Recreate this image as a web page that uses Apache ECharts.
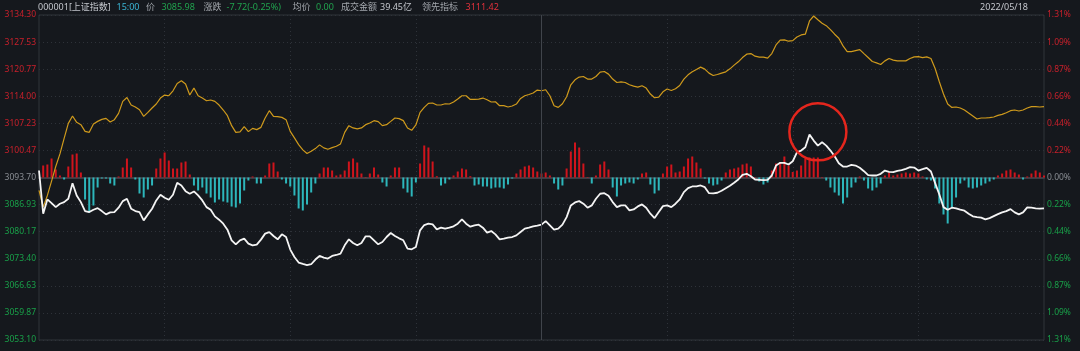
<!DOCTYPE html>
<html>
<head>
<meta charset="utf-8">
<script src="https://cdn.jsdelivr.net/npm/echarts@6/dist/echarts.min.js"></script>
<style>
  html, body { margin: 0; padding: 0; background: #15181d; }
  #chart { width: 1080px; height: 351px; }
</style>
</head>
<body>
<div id="chart"></div>
<script>
// 上证指数 2022/05/18 分时，241 个点（9:30 - 15:00）
var prevClose = 3093.70;
var axisTop = 3134.30, axisBottom = 3053.10;

// 白线：指数
var priceLine = [
  3095.44, 3084.66, 3088.22, 3087.30, 3086.30, 3087.15, 3087.55, 3088.39, 3092.28, 3089.22,
  3087.55, 3085.31, 3085.06, 3085.65, 3086.05, 3085.31, 3084.48, 3084.98, 3085.06, 3086.15,
  3087.80, 3088.39, 3085.90, 3085.31, 3085.06, 3082.99, 3084.48, 3085.90, 3087.97, 3089.39,
  3088.64, 3088.15, 3089.39, 3092.38, 3091.71, 3090.29, 3089.64, 3090.21, 3089.22, 3087.97,
  3086.30, 3085.65, 3083.99, 3083.16, 3082.17, 3080.67, 3078.01, 3077.01, 3078.01, 3078.43,
  3077.18, 3076.76, 3076.94, 3078.18, 3079.68, 3080.07, 3079.08, 3078.26, 3079.50, 3078.83,
  3075.69, 3073.85, 3072.45, 3072.10, 3071.78, 3072.03, 3073.20, 3074.10, 3073.70, 3073.45,
  3074.10, 3074.34, 3074.69, 3076.76, 3078.26, 3077.33, 3076.76, 3077.33, 3079.00, 3079.00,
  3078.01, 3077.01, 3077.58, 3078.83, 3079.83, 3079.08, 3078.50, 3078.01, 3075.94, 3075.76,
  3076.34, 3080.50, 3081.82, 3082.17, 3081.99, 3080.75, 3081.17, 3080.92, 3081.17, 3081.49,
  3082.17, 3083.24, 3082.17, 3081.42, 3081.74, 3081.92, 3081.17, 3079.92, 3080.32, 3079.50,
  3078.26, 3078.43, 3078.68, 3078.83, 3079.25, 3080.07, 3080.92, 3081.17, 3081.49, 3081.67,
  3081.92, 3082.81, 3081.74, 3080.67, 3080.92, 3081.92, 3083.81, 3086.73, 3087.47, 3087.80,
  3087.15, 3086.15, 3086.73, 3088.39, 3089.64, 3089.79, 3089.14, 3087.55, 3086.30, 3086.73,
  3086.73, 3085.48, 3085.73, 3086.48, 3086.97, 3086.15, 3084.66, 3083.56, 3085.06, 3086.55,
  3086.73, 3086.30, 3087.15, 3088.22, 3090.04, 3091.03, 3091.46, 3091.46, 3091.71, 3091.28,
  3089.79, 3089.71, 3089.89, 3090.39, 3091.03, 3091.63, 3092.38, 3093.20, 3094.37, 3094.62,
  3094.02, 3093.20, 3093.13, 3093.03, 3093.13, 3094.20, 3096.69, 3097.36, 3097.36, 3096.94,
  3097.76, 3100.00, 3100.43, 3101.25, 3104.41, 3102.92, 3101.67, 3102.49, 3101.67, 3100.43,
  3099.01, 3097.26, 3096.44, 3096.44, 3096.86, 3096.69, 3096.12, 3095.27, 3094.27, 3094.20,
  3094.20, 3094.62, 3095.44, 3095.12, 3095.02, 3095.37, 3095.52, 3095.87, 3096.27, 3096.19,
  3095.44, 3095.77, 3096.12, 3095.19, 3092.28, 3089.47, 3086.30, 3085.65, 3086.15, 3085.98,
  3085.65, 3085.40, 3084.66, 3083.99, 3083.81, 3083.66, 3083.24, 3083.56, 3084.06, 3084.56,
  3084.98, 3085.31, 3085.80, 3084.98, 3084.48, 3084.98, 3086.23, 3086.15, 3085.98, 3085.90,
  3085.98
];

// 黄线：领先指标
var leadLine = [
  3090.46, 3086.30, 3089.22, 3092.78, 3096.44, 3099.60, 3103.49, 3107.23, 3109.07, 3107.48,
  3106.90, 3105.23, 3104.98, 3107.08, 3107.72, 3108.22, 3108.47, 3107.57, 3108.15, 3109.72,
  3112.71, 3113.70, 3111.81, 3111.31, 3110.64, 3108.97, 3109.97, 3111.06, 3112.06, 3113.55,
  3114.30, 3114.13, 3115.37, 3117.19, 3117.86, 3117.04, 3114.30, 3116.04, 3114.13, 3113.55,
  3112.88, 3113.06, 3112.71, 3111.81, 3110.56, 3109.14, 3106.65, 3104.98, 3105.08, 3106.40,
  3105.16, 3105.98, 3105.66, 3106.23, 3108.57, 3110.39, 3108.97, 3108.90, 3108.72, 3108.15,
  3105.23, 3103.59, 3101.92, 3100.60, 3099.68, 3100.25, 3100.92, 3101.85, 3101.10, 3100.75,
  3101.17, 3101.50, 3102.09, 3104.98, 3106.65, 3106.08, 3105.83, 3106.08, 3106.90, 3107.33,
  3107.90, 3107.65, 3106.65, 3106.90, 3107.72, 3108.57, 3108.40, 3107.90, 3106.08, 3105.48,
  3106.83, 3109.97, 3111.21, 3112.21, 3112.31, 3111.81, 3111.81, 3112.13, 3112.06, 3112.56,
  3113.30, 3114.13, 3114.13, 3113.20, 3113.20, 3113.30, 3113.55, 3113.13, 3112.56, 3112.63,
  3111.64, 3111.64, 3111.31, 3111.56, 3112.06, 3113.45, 3114.13, 3114.45, 3114.80, 3115.55,
  3115.37, 3115.62, 3114.13, 3111.64, 3111.21, 3112.13, 3113.88, 3116.87, 3118.11, 3118.78,
  3118.93, 3118.29, 3118.29, 3118.93, 3120.03, 3120.18, 3119.53, 3118.29, 3117.44, 3117.61,
  3117.44, 3116.87, 3116.54, 3116.29, 3116.62, 3116.04, 3114.55, 3113.63, 3113.80, 3115.12,
  3115.80, 3115.45, 3115.87, 3116.69, 3118.29, 3119.36, 3120.10, 3120.68, 3121.28, 3120.78,
  3119.78, 3119.18, 3119.43, 3119.78, 3120.10, 3120.85, 3121.77, 3122.60, 3123.67, 3124.51,
  3124.66, 3124.02, 3123.77, 3123.77, 3123.52, 3124.66, 3126.83, 3128.00, 3128.08, 3127.75,
  3127.90, 3128.82, 3129.32, 3129.50, 3132.81, 3134.05, 3133.13, 3132.24, 3131.64, 3130.64,
  3129.50, 3128.50, 3126.58, 3125.16, 3125.16, 3125.41, 3125.66, 3124.66, 3123.67, 3122.67,
  3122.35, 3121.92, 3122.84, 3123.42, 3123.02, 3122.84, 3122.84, 3122.84, 3123.42, 3123.84,
  3123.92, 3123.67, 3123.84, 3123.42, 3120.93, 3117.61, 3114.55, 3112.06, 3111.21, 3111.31,
  3111.06, 3110.56, 3109.82, 3109.07, 3108.32, 3108.57, 3108.57, 3108.65, 3108.82, 3109.22,
  3109.47, 3109.89, 3110.39, 3110.56, 3110.31, 3110.56, 3111.06, 3111.39, 3111.39, 3111.31,
  3111.42
];

// 红绿柱（买卖力道），正为红、负为绿
var powerBars = [
  0, 12, 13, 19, 8, 2, -2, 11, 23, 24,
  5, -22, -35, -28, -10, -1, -1, -6, -8, 1,
  10, 19, 10, -2, -16, -20, -12, -8, 9, 19,
  25, 17, 9, 9, 15, 16, 3, -8, -13, -10,
  -16, -20, -25, -22, -24, -25, -29, -30, -26, -13,
  -3, 1, -6, -6, 2, 14, 15, 6, -2, -6,
  -9, -18, -31, -33, -27, -15, -6, 4, 10, 10,
  7, 2, 3, 7, 16, 19, 15, 4, 0.5, 4,
  10, 3, -5, -9, 2, 10, 10, -11, -15, -19,
  -5, 14, 32, 30, 16, 1.3, -8, -6, -2, 2,
  6, 9, 8, 1.3, -8, -7, -9, -9, -11, -10,
  -10, -11, -7, -1, 4, 8, 11, 12, 10, 6,
  4, 5, 2, -6, -12, -8, 9, 26, 35, 30,
  14, 0.5, -6, 2, 13, 16, 8, -10, -19, -8,
  -6, -5, -6, -2, 4, 5, -7, -16, -13, 4,
  11, 13, 5, 6, 11, 19, 21, 15, 9, -1,
  -6, -8, -7, -3, 5, 8, 9, 10, 13, 14,
  11, 0.5, -4, -7, -5, 7, 14, 15, 21, 12,
  5.5, 7, 12, 19, 20, 20, 20, 0.5, -3, -10,
  -15, -18, -26, -20, -10, -5, 1, -3, -11, -13,
  -10, -6, 2, 5, 2, 3, 4, 5, 4, 5,
  4, 1, -2, -3, -11, -26, -37, -46, -30, -20,
  -6, -3, -10, -11, -10, -8, -6, -4, -2, 2,
  4, 7, 8, 5, 3, -2, 1, 4, 7, 5,
  2
];

// 红圈标注的位置（分钟序号、点位）
var circleMark = [186, 3105.1];

var STEP = (axisTop - axisBottom) / 12;
function toStep(p) { return (p - prevClose) / STEP; }

function minuteLabels() {
  var out = [];
  function pad(n) { return n < 10 ? '0' + n : '' + n; }
  for (var m = 9 * 60 + 30; m <= 11 * 60 + 30; m++) out.push(pad(Math.floor(m / 60)) + ':' + pad(m % 60));
  for (var m2 = 13 * 60 + 1; m2 <= 15 * 60; m2++) out.push(pad(Math.floor(m2 / 60)) + ':' + pad(m2 % 60));
  return out;
}

var RED = '#c9202b', GREEN = '#19a049', GREY = '#8a8e94';
function sideColor(v) {
  v = Number(v);
  if (v > 0.001) return RED;
  if (v < -0.001) return GREEN;
  return GREY;
}

var headFont = '"Noto Sans", "Noto Sans CJK SC", sans-serif';
function headText(x, text, color, align) {
  return {
    type: 'text', x: x, y: 7.5, silent: true,
    style: { text: text, fill: color, fontSize: 9, fontFamily: headFont,
             verticalAlign: 'middle', align: align || 'left' }
  };
}

var chart = echarts.init(document.getElementById('chart'));
var option = {
  animation: false,
  backgroundColor: '#15181d',
  graphic: [
    headText(38, '000001[上证指数]', '#c3c6cc'),
    headText(116.5, '15:00', '#3ab5d4'),
    headText(146, '价', '#a3a7ad'),
    headText(161.5, '3085.98', '#21a24e'),
    headText(203.5, '涨跌', '#a3a7ad'),
    headText(226.5, '-7.72(-0.25%)', '#21a24e'),
    headText(292.5, '均价', '#a3a7ad'),
    headText(316, '0.00', '#21a24e'),
    headText(341, '成交金额', '#a3a7ad'),
    headText(380, '39.45亿', '#c3c6cc'),
    headText(422, '领先指标', '#a3a7ad'),
    headText(465.5, '3111.42', '#e0313b'),
    headText(1028, '2022/05/18', '#c3c6cc', 'right')
  ],
  grid: {
    left: 39, right: 36, top: 15, bottom: 11,
    show: true, borderColor: '#30343b', borderWidth: 1
  },
  xAxis: {
    type: 'category',
    boundaryGap: false,
    data: minuteLabels(),
    axisTick: { show: false },
    axisLabel: { show: false },
    axisLine: { show: true, onZero: true, lineStyle: { color: '#3a3e45', width: 2 } },
    splitLine: {
      show: true,
      interval: function (i) { return i % 30 === 0 && i > 0 && i < 240 && i !== 120; },
      lineStyle: { color: '#2e3239', type: [1, 3], width: 1 }
    }
  },
  yAxis: [
    {
      type: 'value', min: -6, max: 6, interval: 1, position: 'left',
      axisLine: { show: false }, axisTick: { show: false },
      axisLabel: {
        margin: 3, fontSize: 8.5, fontFamily: 'Noto Sans',
        formatter: function (v) { return (prevClose + v * STEP).toFixed(2); },
        color: function (v) { return sideColor(v); }
      },
      splitLine: { show: true, lineStyle: { color: '#2e3239', type: [1, 3], width: 1 } }
    },
    {
      type: 'value', min: -162.5, max: 162.5, show: false,
      splitLine: { show: false }
    },
    {
      type: 'value', min: -6, max: 6, interval: 1, position: 'right',
      axisLine: { show: false }, axisTick: { show: false },
      axisLabel: {
        margin: 3, fontSize: 8.5, fontFamily: 'Noto Sans',
        formatter: function (v) { return Math.abs(v * STEP / prevClose * 100).toFixed(2) + '%'; },
        color: function (v) { return sideColor(v); }
      },
      splitLine: { show: false }
    }
  ],
  series: [
    {
      name: '红绿柱',
      type: 'bar',
      yAxisIndex: 1,
      barWidth: 2,
      data: powerBars,
      itemStyle: {
        color: function (p) { return p.value >= 0 ? '#d0141c' : '#2db6bb'; }
      },
      z: 2
    },
    {
      name: '领先指标',
      type: 'line',
      yAxisIndex: 0,
      data: leadLine.map(toStep),
      showSymbol: false,
      symbol: 'none',
      lineStyle: { color: '#cf9a1c', width: 1.2 },
      z: 3
    },
    {
      name: '上证指数',
      type: 'line',
      yAxisIndex: 0,
      data: priceLine.map(toStep),
      showSymbol: false,
      symbol: 'none',
      lineStyle: { color: '#f4f4f4', width: 1.8 },
      z: 4,
      markLine: {
        silent: true, symbol: 'none', label: { show: false },
        lineStyle: { color: '#40444b', type: 'solid', width: 1 },
        data: [{ xAxis: 120 }]
      },
      markPoint: {
        silent: true,
        label: { show: false },
        data: [{
          coord: [circleMark[0], toStep(circleMark[1])],
          symbol: 'circle', symbolSize: 57,
          itemStyle: { color: 'rgba(0,0,0,0)', borderColor: '#e4261d', borderWidth: 2.5 }
        }]
      }
    }
  ]
};
chart.setOption(option);
</script>
</body>
</html>
